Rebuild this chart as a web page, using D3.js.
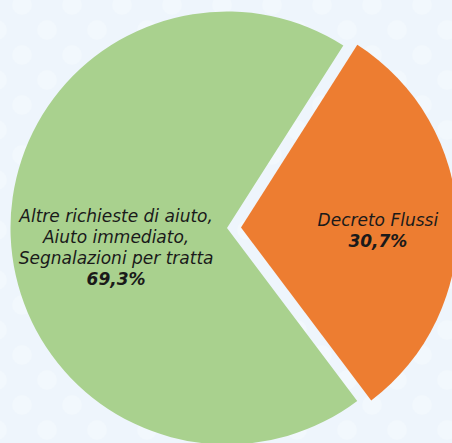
<!DOCTYPE html>
<html>
<head>
<meta charset="utf-8">
<script src="https://cdn.jsdelivr.net/npm/d3@7"></script>
<style>
  html, body { margin: 0; padding: 0; background: #eef5fc; }
  svg { display: block; }
</style>
</head>
<body>
<div id="chart"></div>
<script>
// dati
const categories = ["Decreto Flussi", "Altre richieste di aiuto, Aiuto immediato, Segnalazioni per tratta"];
const labelLines = [["Decreto Flussi"], ["Altre richieste di aiuto,", "Aiuto immediato,", "Segnalazioni per tratta"]];
const values = [30.7, 69.3];
const percentLabels = ["30,7%", "69,3%"];

const width = 452;
const height = 443;
const cx = 227, cy = 228;
const radius = 216.5;
const explode = [14, 0];          // spostamento lungo l'angolo medio
const labelRadius = [137, 111];
const labelDy = [4, -10];
const colors = ["#ed7d31", "#a9d18e"];

const svg = d3.select("#chart").append("svg")
  .attr("width", width)
  .attr("height", height);

// sfondo a pois
const defs = svg.append("defs");
const pat = defs.append("pattern")
  .attr("id", "dots")
  .attr("patternUnits", "userSpaceOnUse")
  .attr("width", 50)
  .attr("height", 50)
  .attr("x", -3)
  .attr("y", -20);
pat.append("rect").attr("width", 50).attr("height", 50).attr("fill", "#eef5fc");
[[25, 25], [0, 0], [50, 0], [0, 50], [50, 50]].forEach(p => {
  pat.append("circle").attr("cx", p[0]).attr("cy", p[1]).attr("r", 10).attr("fill", "#f2f8fd");
});

svg.append("rect")
  .attr("width", width)
  .attr("height", height)
  .attr("fill", "url(#dots)");

const pie = d3.pie()
  .sort(null)
  .startAngle(32.5 * Math.PI / 180)
  .endAngle(32.5 * Math.PI / 180 + 2 * Math.PI)
  .value(d => d);

const arcs = pie(values);
const arc = d3.arc().innerRadius(0).outerRadius(radius);

const g = svg.append("g")
  .attr("transform", `translate(${cx},${cy})`);

const slice = g.selectAll("g.slice")
  .data(arcs)
  .enter().append("g")
  .attr("class", "slice")
  .attr("transform", (d, i) => {
    const mid = (d.startAngle + d.endAngle) / 2;
    const off = explode[i];
    return `translate(${Math.sin(mid) * off},${-Math.cos(mid) * off})`;
  });

slice.append("path")
  .attr("d", arc)
  .attr("fill", (d, i) => colors[i]);

// etichette
slice.each(function(d, i) {
  const la = d3.arc().innerRadius(labelRadius[i]).outerRadius(labelRadius[i]);
  const [lx, ly] = la.centroid(d);
  const t = d3.select(this).append("text")
    .attr("x", lx)
    .attr("y", ly + labelDy[i])
    .attr("text-anchor", "middle")
    .attr("font-family", "DejaVu Sans, Verdana, sans-serif")
    .attr("font-size", "17px")
    .attr("font-style", "italic")
    .attr("fill", "#1a1a1a");
  labelLines[i].forEach((line, j) => {
    t.append("tspan")
      .attr("x", lx)
      .attr("dy", j === 0 ? 0 : 21)
      .text(line);
  });
  t.append("tspan")
    .attr("x", lx)
    .attr("dy", 21)
    .attr("font-weight", "bold")
    .text(percentLabels[i]);
});
</script>
</body>
</html>
